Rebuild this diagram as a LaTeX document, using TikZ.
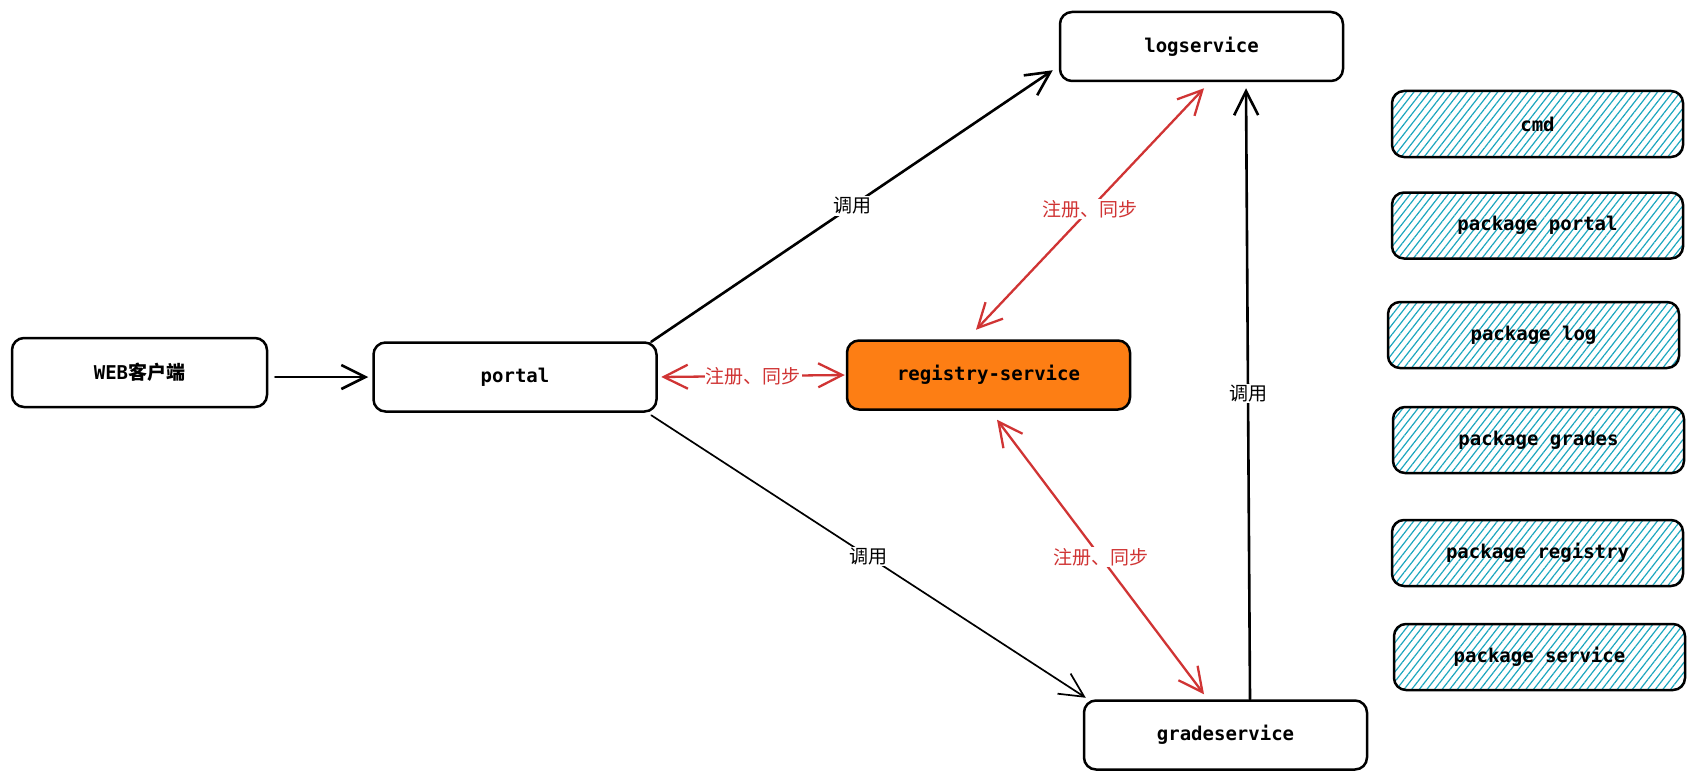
\documentclass[tikz,border=0pt]{standalone}
\usepackage{fontspec}
\setmonofont{DejaVu Sans Mono}
\newfontfamily\cjk{Noto Sans CJK SC}
\usetikzlibrary{arrows.meta, patterns.meta}
\definecolor{regorange}{HTML}{FD7E14}
\definecolor{hatchcyan}{HTML}{1CA6BE}
\definecolor{syncred}{HTML}{D03434}

\begin{document}
\begin{tikzpicture}[x=1pt, y=-1pt,
  box/.style={draw, line width=2.5pt, rounded corners=12pt, fill=white, minimum width=283pt, minimum height=69pt, inner sep=0pt, font=\ttfamily\bfseries\fontsize{19}{22}\selectfont},
  pkgbox/.style={box, fill=none, minimum width=291pt, minimum height=66pt, pattern={Lines[angle=52, distance=6pt, line width=1.2pt]}, pattern color=hatchcyan},
  callarrow/.style={draw, line width=2.6pt, line cap=round, line join=round, -{Straight Barb[length=24pt, width=24pt]}},
  syncarrow/.style={draw=syncred, line width=2.3pt, line cap=round, line join=round, {Straight Barb[length=24pt, width=24pt]}-{Straight Barb[length=24pt, width=24pt]}},
  calllabel/.style={fill=white, inner sep=1pt, font=\cjk\fontsize{19}{22}\selectfont},
  synclabel/.style={calllabel, text=syncred}
]
\useasboundingbox (0,0) rectangle (1696,781);

%services
\node[box, minimum width=255pt] (web) at (139.5,372.5) {WEB{\cjk 客户端}};
\node[box] (portal) at (515,377) {portal};
\node[box, fill=regorange] (registry) at (988.5,375) {registry-service};
\node[box] (logsvc) at (1201.5,46.5) {logservice};
\node[box] (gradesvc) at (1225.5,735) {gradeservice};

%packages
\node[pkgbox] (cmd) at (1537.5,124) {cmd};
\node[pkgbox] (pkgportal) at (1537.5,225.5) {package portal};
\node[pkgbox] (pkglog) at (1533.5,335) {package log};
\node[pkgbox] (pkggrades) at (1538.5,440) {package grades};
\node[pkgbox] (pkgregistry) at (1537.5,553) {package registry};
\node[pkgbox] (pkgservice) at (1539.5,657) {package service};

%calls
\draw[callarrow] ([xshift=7pt,yshift=-4.5pt]web.east) -- ([xshift=-4pt]portal.west);
\draw[callarrow] ([xshift=-6.5pt,yshift=-0.5pt]portal.north east) -- node[calllabel] {调用} ([xshift=-6pt,yshift=12pt]logsvc.south west);
\draw[callarrow, line width=1.7pt] ([xshift=-6.5pt,yshift=-2.5pt]portal.south east) -- node[calllabel] {调用} ([xshift=3pt,yshift=1.5pt]gradesvc.north west);
\draw[callarrow] ([xshift=24.5pt]gradesvc.north) -- node[calllabel] {调用} ([xshift=44.5pt,yshift=-6pt]logsvc.south);

%register and sync
\draw[syncarrow] ([xshift=3.5pt]portal.east) -- node[synclabel] {注册、同步} ([xshift=-1pt]registry.west);
\draw[syncarrow] ([xshift=-12.5pt,yshift=9.5pt]registry.north) -- node[synclabel] {注册、同步} ([xshift=2.5pt,yshift=-6pt]logsvc.south);
\draw[syncarrow] ([xshift=8.5pt,yshift=-9pt]registry.south) -- node[synclabel] {注册、同步} ([xshift=-21.5pt,yshift=5pt]gradesvc.north);

\end{tikzpicture}
\end{document}
